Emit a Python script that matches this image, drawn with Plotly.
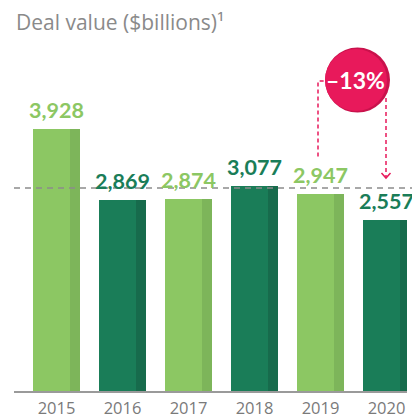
import plotly.graph_objects as go

# ---- data ----
years = ["2015", "2016", "2017", "2018", "2019", "2020"]
deal_values = [3928, 2869, 2874, 3077, 2947, 2557]
change_label = "–13%"
title_text = "Deal value ($billions)¹"

# ---- style ----
LIGHT, LIGHT_SHADE = "#8CC763", "#7DB55A"
DARK, DARK_SHADE = "#1A7D58", "#176B4C"
PINK, PINK_SHADE = "#E8195B", "#C9124C"
GRAY_TXT = "#8A8A8A"
FONT = "Lato"

W, H = 412, 418
ML, MR, MT, MB = 14, 5, 0, 27
plot_w, plot_h = W - ML - MR, H - MT - MB
step_px = 66.0            # pixels per category
first_px = 42.5           # center of first category from plot left
px_per_unit = 0.0667      # pixels per $bn

x_idx = list(range(len(years)))
x_range = [-first_px / step_px, (plot_w - first_px) / step_px]
y_range = [0, plot_h / px_per_unit]

def dx(px):  # pixel distance -> x units
    return px / step_px

def dy(px):  # pixel distance -> y units
    return px / px_per_unit

main_w = dx(47)
strip_w = dx(10)
colors = [LIGHT if i % 2 == 0 else DARK for i in x_idx]
shades = [LIGHT_SHADE if i % 2 == 0 else DARK_SHADE for i in x_idx]

fig = go.Figure()
fig.add_trace(go.Bar(x=x_idx, y=deal_values, width=main_w, offset=-main_w / 2,
                     marker=dict(color=colors, line=dict(width=0)),
                     hoverinfo="skip"))
fig.add_trace(go.Bar(x=x_idx, y=deal_values, width=strip_w,
                     offset=main_w / 2 - strip_w,
                     marker=dict(color=shades, line=dict(width=0)),
                     hoverinfo="skip"))

# value labels
for i, v in zip(x_idx, deal_values):
    fig.add_annotation(x=i, y=v, text=f"<b>{v:,}</b>", showarrow=False,
                       yanchor="bottom", yshift=4,
                       font=dict(family=FONT, size=21.5, color=colors[i]))

# average line
avg = sum(deal_values) / len(deal_values)
fig.add_shape(type="line", xref="paper", yref="y", x0=0, x1=1.02, y0=avg, y1=avg,
              line=dict(color="#8C8C8C", width=1.5, dash="6px,5px"))

# badge
i19, i20 = x_idx[-2], x_idx[-1]
cx = (i19 + i20) / 2 + dx(4)
cy = avg + dy(108)
r = 32.5
fig.add_shape(type="circle", xref="x", yref="y",
              x0=cx - dx(r), x1=cx + dx(r), y0=cy - dy(r), y1=cy + dy(r),
              fillcolor=PINK_SHADE, line=dict(width=0), layer="above")
r2 = 31
cx2 = cx - dx(1.5)
fig.add_shape(type="circle", xref="x", yref="y",
              x0=cx2 - dx(r2), x1=cx2 + dx(r2), y0=cy - dy(r2), y1=cy + dy(r2),
              fillcolor=PINK, line=dict(width=0), layer="above")
fig.add_annotation(x=cx - dx(2), y=cy, text=f"<b>{change_label}</b>", showarrow=False,
                   font=dict(family=FONT, size=23, color="white"))

# connector lines
lx = i19 - dx(2.5)
ly_bot = deal_values[-2] + dy(38)
ly_top = cy - dy(1)
pink_line = dict(color=PINK, width=1.5, dash="4px,3px")
fig.add_shape(type="path", xref="x", yref="y",
              path=f"M {lx},{ly_bot} L {lx},{ly_top} L {cx - dx(r)},{ly_top}",
              line=pink_line)
rx = i20 - dx(0.5)
ry_top = cy - dy(18)
ry_bot = avg + dy(10)
fig.add_shape(type="line", xref="x", yref="y", x0=rx, x1=rx, y0=ry_top, y1=ry_bot,
              line=pink_line)
fig.add_shape(type="path", xref="x", yref="y",
              path=f"M {rx - dx(4.5)},{ry_bot + dy(5)} L {rx},{ry_bot} L {rx + dx(4.5)},{ry_bot + dy(5)}",
              line=dict(color=PINK, width=1.5))

# title
fig.add_annotation(xref="paper", yref="paper", x=0, y=1 - 22 / plot_h,
                   xanchor="left", yanchor="middle", text=title_text, showarrow=False,
                   font=dict(family="Open Sans", size=21, color=GRAY_TXT))

fig.update_layout(
    width=W, height=H, margin=dict(l=ML, r=MR, t=MT, b=MB, autoexpand=False),
    paper_bgcolor="white", plot_bgcolor="white",
    barmode="overlay", showlegend=False, bargap=0,
    xaxis=dict(range=x_range, tickvals=x_idx, ticktext=years, showgrid=False,
               zeroline=False, showline=True, linecolor="#9A9A9A", linewidth=1.5,
               ticks="", ticklabelstandoff=1, automargin=False,
               tickfont=dict(family="Open Sans", size=16.5, color="#7A7A7A"),
               fixedrange=True),
    yaxis=dict(range=y_range, visible=False, fixedrange=True),
)

fig.write_html("out.html", config={"displayModeBar": False},
               post_script="document.body.style.margin='0';document.body.style.overflow='hidden';")
